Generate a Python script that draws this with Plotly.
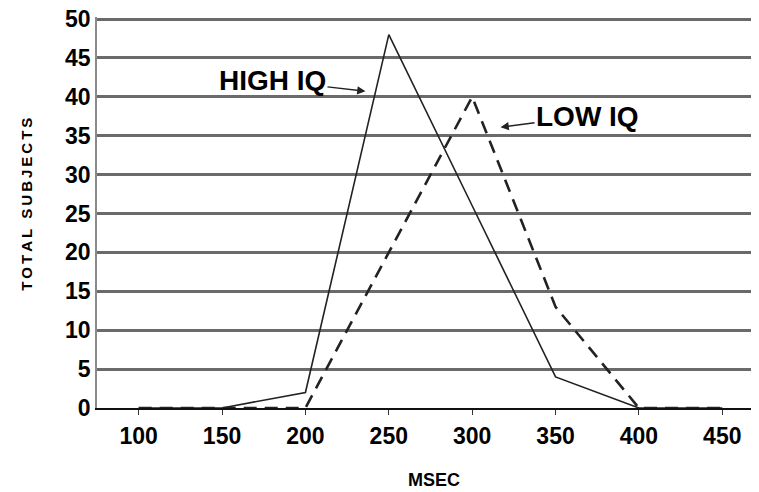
import plotly.graph_objects as go

msec     = ['100', '150', '200', '250', '300', '350', '400', '450']
high_iq  = [0, 0, 2, 48, 26, 4, 0, 0]
low_iq   = [0, 0, 0, 20, 40, 13, 0, 0]
y_ticks  = [0, 5, 10, 15, 20, 25, 30, 35, 40, 45, 50]

FONT = 'Liberation Sans'

fig = go.Figure()

fig.add_trace(go.Scatter(x = list(range(len(msec))), y = high_iq, mode = 'lines', name = 'HIGH IQ',
	line = dict(color = '#222222', width = 1.6)))
fig.add_trace(go.Scatter(x = list(range(len(msec))), y = low_iq, mode = 'lines', name = 'LOW IQ',
	line = dict(color = '#222222', width = 2.6, dash = '13px,8px')))

# the page puts the figure 8px in from the corner
fig.update_layout(
	width = 759,
	height = 492,
	margin = dict(l = 89, r = 3, t = 9, b = 92),
	plot_bgcolor = 'white',
	paper_bgcolor = 'white',
	showlegend = False,
	font = dict(family = FONT, color = 'black', size = 23),
)

fig.update_xaxes(
	range = [-0.5, 7.5],
	tickmode = 'array',
	tickvals = list(range(len(msec))),
	ticktext = ['<b>' + m + '</b>' for m in msec],
	tickson = 'boundaries',
	showgrid = False,
	showline = True,
	linecolor = '#111111',
	linewidth = 2,
	ticks = 'outside',
	ticklen = 5,
	tickcolor = '#333333',
	ticklabelstandoff = 1,
	zeroline = False,
	automargin = False,
)

# a little headroom so the 50 grid line is not clipped at the edge
fig.update_yaxes(
	range = [0, 50.26],
	tickmode = 'array',
	tickvals = y_ticks,
	ticktext = ['<b>' + str(v) + '</b>' for v in y_ticks],
	showgrid = True,
	gridcolor = '#6a6a6a',
	gridwidth = 2.5,
	showline = True,
	linecolor = '#8a8a8a',
	linewidth = 1.5,
	zeroline = False,
	ticks = '',
	ticklabelstandoff = 0,
	ticklabeloverflow = 'allow',
	automargin = False,
)

fig.add_annotation(x = 2.72, y = 40.7, xref = 'x', yref = 'y', text = '<b>HIGH IQ</b>',
	showarrow = True, ax = -93, ay = -11, arrowhead = 2, arrowsize = 1.1, arrowwidth = 1.5,
	arrowcolor = '#222222', standoff = 0, font = dict(size = 28, family = FONT, color = 'black'))
fig.add_annotation(x = 4.34, y = 36.1, xref = 'x', yref = 'y', text = '<b>LOW IQ</b>',
	showarrow = True, ax = 87, ay = -11, arrowhead = 2, arrowsize = 1.1, arrowwidth = 1.5,
	arrowcolor = '#222222', standoff = 0, font = dict(size = 28, family = FONT, color = 'black'))

fig.add_annotation(x = 0.505, y = -0.185, xref = 'paper', yref = 'paper', text = '<b>MSEC</b>',
	xanchor = 'center', yanchor = 'middle',
	showarrow = False, font = dict(size = 18, family = FONT, color = 'black'))
fig.add_annotation(x = -0.105, y = 0.522, xref = 'paper', yref = 'paper',
	text = '<b>' + '\u2009'.join('TOTAL SUBJECTS') + '</b>', textangle = -90,
	xanchor = 'center', yanchor = 'middle',
	showarrow = False, font = dict(size = 15, family = FONT, color = 'black'))

fig.write_html('out.html')
